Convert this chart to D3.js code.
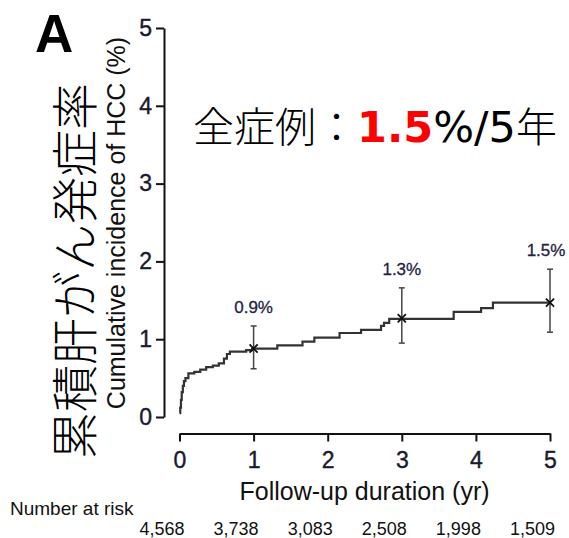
<!DOCTYPE html>
<html>
<head>
<meta charset="utf-8">
<script src="https://cdn.jsdelivr.net/npm/d3@7"></script>
<style>
  html, body { margin: 0; padding: 0; background: #fff; }
  svg { display: block; }
</style>
</head>
<body>
<svg id="chart" width="569" height="538"></svg>
<script>
// ---- data ----
const xTickValues = [0, 1, 2, 3, 4, 5];
const yTickValues = [0, 1, 2, 3, 4, 5];
const atRisk = ["4,568", "3,738", "3,083", "2,508", "1,998", "1,509"];
const curveTime  = [0, 0.01, 0.02, 0.03, 0.045, 0.06, 0.08, 0.12, 0.2, 0.28, 0.36, 0.45, 0.53, 0.6, 0.64, 0.68, 0.9, 0.98, 1.32, 1.66, 1.82, 2.16, 2.45, 2.72, 2.76, 2.83, 3.70, 4.07, 4.23, 5.0];
const curveValue = [0.05, 0.12, 0.22, 0.32, 0.40, 0.46, 0.50, 0.56, 0.58, 0.61, 0.64, 0.66, 0.69, 0.75, 0.81, 0.84, 0.86, 0.88, 0.92, 0.97, 1.02, 1.08, 1.12, 1.17, 1.21, 1.26, 1.35, 1.40, 1.47, 1.47];
const pointYears  = [1, 3, 5];
const pointValues = [0.88, 1.27, 1.47];
const ciLow  = [0.62, 0.95, 1.09];
const ciHigh = [1.17, 1.66, 1.90];
const pointLabels = ["0.9%", "1.3%", "1.5%"];

// ---- setup ----
const svg = d3.select("#chart");
const LAT = "'Liberation Sans', Arial, sans-serif";
const x = d3.scaleLinear().domain([0, 5]).range([179.5, 550]);
const y = d3.scaleLinear().domain([0, 5]).range([417, 28]);

svg.append("rect").attr("width", 569).attr("height", 538).attr("fill", "#fff");

// Y axis
const yAxis = svg.append("g")
  .attr("transform", "translate(164,0)")
  .call(d3.axisLeft(y).tickValues(yTickValues).tickSize(8).tickSizeOuter(0).tickPadding(4).tickFormat(d3.format("d")));
yAxis.select(".domain").attr("stroke", "#111").attr("stroke-width", 2);
yAxis.selectAll(".tick line").attr("stroke", "#111").attr("stroke-width", 2);
yAxis.selectAll(".tick text").attr("font-family", LAT).attr("font-size", 23).attr("fill", "#1a1a2e")
  .attr("stroke", "#1a1a2e").attr("stroke-width", 0.4);

// X axis
const xAxis = svg.append("g")
  .attr("transform", "translate(0,433.5)")
  .call(d3.axisBottom(x).tickValues(xTickValues).tickSize(8).tickSizeOuter(0).tickPadding(10).tickFormat(d3.format("d")));
xAxis.select(".domain").attr("stroke", "#111").attr("stroke-width", 2);
xAxis.selectAll(".tick line").attr("stroke", "#111").attr("stroke-width", 2);
xAxis.selectAll(".tick text").attr("font-family", LAT).attr("font-size", 23).attr("fill", "#1a1a2e")
  .attr("stroke", "#1a1a2e").attr("stroke-width", 0.4);

// curve
const curveData = curveTime.map((t, i) => [t, curveValue[i]]);
svg.append("path")
  .datum(curveData)
  .attr("fill", "none")
  .attr("stroke", "#333")
  .attr("stroke-width", 2.2)
  .attr("d", d3.line().x(d => x(d[0])).y(d => y(d[1])).curve(d3.curveStepAfter));

// error bars
const eb = svg.append("g").selectAll("g").data(pointYears).join("g");
eb.append("line")
  .attr("x1", d => x(d)).attr("x2", d => x(d))
  .attr("y1", (d, i) => y(ciLow[i])).attr("y2", (d, i) => y(ciHigh[i]))
  .attr("stroke", "#444").attr("stroke-width", 1.5);
eb.append("line")
  .attr("x1", d => x(d) - 3).attr("x2", d => x(d) + 3)
  .attr("y1", (d, i) => y(ciLow[i])).attr("y2", (d, i) => y(ciLow[i]))
  .attr("stroke", "#444").attr("stroke-width", 1.5);
eb.append("line")
  .attr("x1", d => x(d) - 3).attr("x2", d => x(d) + 3)
  .attr("y1", (d, i) => y(ciHigh[i])).attr("y2", (d, i) => y(ciHigh[i]))
  .attr("stroke", "#444").attr("stroke-width", 1.5);
eb.append("path")
  .attr("transform", (d, i) => `translate(${x(d)},${y(pointValues[i])})`)
  .attr("d", d3.symbol().type(d3.symbolTimes).size(45))
  .attr("fill", "none").attr("stroke", "#111").attr("stroke-width", 1.8);
eb.append("text")
  .attr("x", (d, i) => x(d) - (i === 2 ? 4 : 0))
  .attr("y", (d, i) => y(ciHigh[i]) - 13)
  .attr("text-anchor", "middle")
  .attr("font-family", LAT).attr("font-size", 17)
  .attr("fill", "#1f2340").attr("stroke", "#1f2340").attr("stroke-width", 0.3)
  .text((d, i) => pointLabels[i]);

// axis titles
svg.append("text")
  .attr("x", 364.5).attr("y", 500)
  .attr("text-anchor", "middle")
  .attr("font-family", LAT).attr("font-size", 25).attr("fill", "#111")
  .text("Follow-up duration (yr)");

svg.append("text")
  .attr("transform", "translate(125,223) rotate(-90)")
  .attr("text-anchor", "middle")
  .attr("font-family", LAT).attr("font-size", 25).attr("fill", "#111")
  .text("Cumulative incidence of HCC (%)");

// Japanese vertical label
svg.append("text")
  .attr("transform", "translate(71,271) rotate(-90)")
  .attr("text-anchor", "middle")
  .attr("dominant-baseline", "central")
  .attr("font-family", "'Noto Sans CJK JP', sans-serif").attr("font-weight", 300).attr("font-size", 47).attr("fill", "#000")
  .text("累積肝がん発症率");

// Panel letter
svg.append("text")
  .attr("x", 35).attr("y", 52)
  .attr("font-family", LAT).attr("font-weight", "bold").attr("font-size", 53).attr("fill", "#000")
  .text("A");

// headline
const head = svg.append("text")
  .attr("x", 193).attr("y", 142)
  .attr("font-size", 41).attr("fill", "#000")
  .attr("font-family", "'DejaVu Sans', 'Noto Sans CJK JP', sans-serif");
head.append("tspan").attr("font-family", "'Noto Sans CJK JP', sans-serif").attr("font-weight", 300).text("全症例：");
head.append("tspan").attr("font-weight", "bold").attr("fill", "#ff0000").attr("font-size", 43).text("1.5");
head.append("tspan").attr("font-size", 43).text("%/5");
head.append("tspan").attr("font-family", "'Noto Sans CJK JP', sans-serif").attr("font-weight", 300).text("年");

// number at risk
svg.append("text")
  .attr("x", 10).attr("y", 515)
  .attr("font-family", LAT).attr("font-size", 19).attr("fill", "#111")
  .text("Number at risk");
svg.append("g").selectAll("text").data(xTickValues).join("text")
  .attr("x", d => x(d) + 5).attr("y", 535)
  .attr("text-anchor", "end")
  .attr("font-family", LAT).attr("font-size", 18).attr("fill", "#111")
  .text((d, i) => atRisk[i]);
</script>
</body>
</html>
